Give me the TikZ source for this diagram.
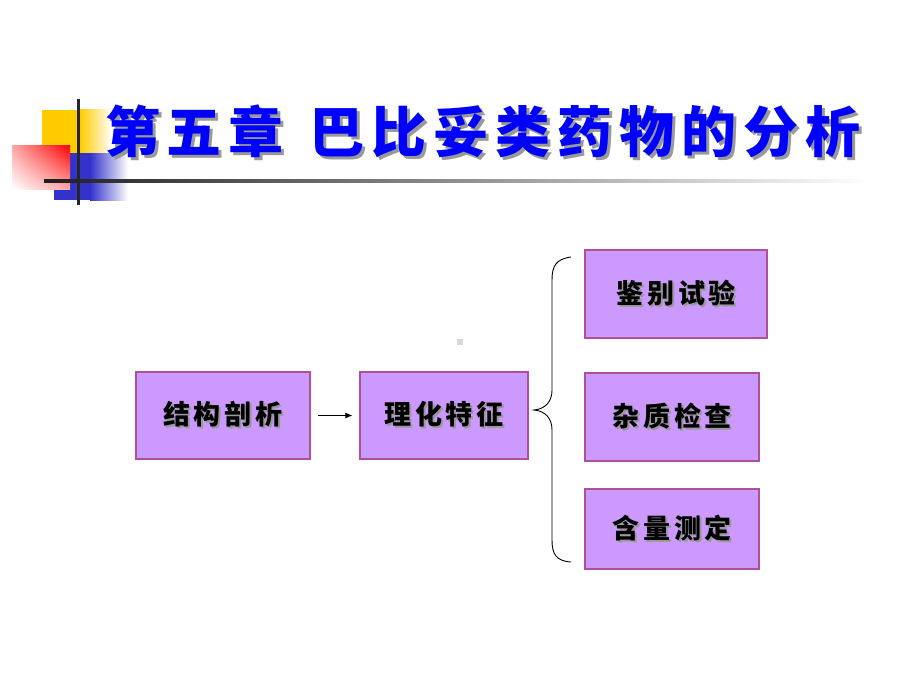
\documentclass[tikz,border=0pt]{standalone}
\usepackage{fontspec}
\newfontfamily\cjk{Noto Sans CJK SC}
\usetikzlibrary{arrows.meta,shadings}
\definecolor{ylw}{RGB}{255,204,0}
\definecolor{blu}{RGB}{51,51,204}
\definecolor{boxfill}{RGB}{204,153,255}
\definecolor{boxline}{RGB}{176,80,150}
\definecolor{ttl}{RGB}{0,0,255}
\newcommand\myg{\hspace{4pt}}
\newcommand\myt{\hspace{7pt}}
\newcommand\shtext[2]{\leavevmode\rlap{\raisebox{-#1}{\hspace{#1}\textcolor{black!40}{#2}}}#2}
\begin{document}
\begin{tikzpicture}[x=1pt,y=-1pt,
  box/.style={draw=boxline,line width=1.1pt,fill=boxfill,inner sep=0pt},
  lbl/.style={font=\cjk\bfseries\fontsize{27}{30}\selectfont,text=black,inner sep=0pt}]
\useasboundingbox (0,0) rectangle (920,690);
% decoration squares
\fill[ylw] (42,110) rectangle (80,153);
\shade[left color=ylw,right color=white] (80,110) rectangle (112,153);
\fill[blu] (54,153) rectangle (90,200);
\shade[left color=blu,right color=white] (90,153) rectangle (128,200);
\shade[upper right=red,lower left=white,upper left=red!35!white,lower right=red!35!white] (12,145) rectangle (70,189);
\shade[left color=black!88,right color=white] (44,179.5) rectangle (870,182.5);
\fill[black!85] (76.5,99) rectangle (79.5,205);
% title
\node[font=\cjk\bfseries\fontsize{55}{60}\selectfont,text=ttl,inner sep=0pt] (title) at (483,133)
 {\shtext{3pt}{第\myt 五\myt 章\hspace{26pt}巴\myt 比\myt 妥\myt 类\myt 药\myt 物\myt 的\myt 分\myt 析}};
% boxes
\node[box,minimum width=174pt,minimum height=87pt] (s1) at (223,415.5) {};
\node[lbl] at (s1) {\shtext{2pt}{结\myg 构\myg 剖\myg 析}};
\node[box,minimum width=168pt,minimum height=87pt] (s2) at (444,415.5) {};
\node[lbl] at (s2) {\shtext{2pt}{理\myg 化\myg 特\myg 征}};
\node[box,minimum width=182pt,minimum height=88pt] (t1) at (676,294) {};
\node[lbl] at (t1) {\shtext{2pt}{鉴\myg 别\myg 试\myg 验}};
\node[box,minimum width=174pt,minimum height=88pt] (t2) at (672,417) {};
\node[lbl] at (t2) {\shtext{2pt}{杂\myg 质\myg 检\myg 查}};
\node[box,minimum width=174pt,minimum height=80pt] (t3) at (672,529) {};
\node[lbl] at (t3) {\shtext{2pt}{含\myg 量\myg 测\myg 定}};
% arrow
\draw[line width=0.9pt,-{Latex[length=7pt,width=6pt]},shorten <=7pt,shorten >=7pt] (s1.east) -- (s2.west);
% brace
\coordinate (bt) at (571,257);
\coordinate (bm) at (534,410);
\coordinate (bb) at (571,562);
\draw[line width=0.9pt] (bt) .. controls (556,259) and (552,266) .. (552,280)
  -- (552,390) .. controls (552,402) and (545,409) .. (bm)
  .. controls (545,411) and (552,418) .. (552,430)
  -- (552,540) .. controls (552,554) and (556,561) .. (bb);
% small grey square
\fill[black!15] (457,339) rectangle (463,345);
\end{tikzpicture}
\end{document}
